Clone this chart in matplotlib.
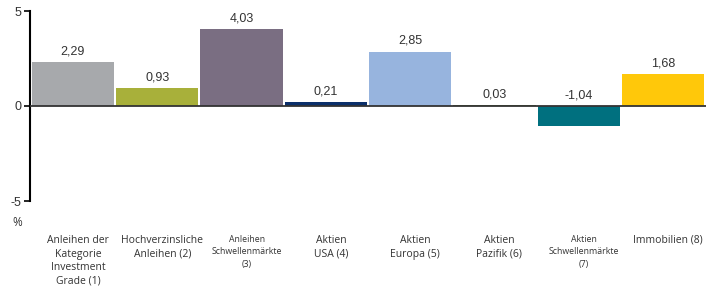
import matplotlib.pyplot as plt
import matplotlib.transforms as mtransforms

categories = [
    "Anleihen der\nKategorie\nInvestment\nGrade (1)",
    "Hochverzinsliche\nAnleihen (2)",
    "Anleihen\nSchwellenmärkte\n(3)",
    "Aktien\nUSA (4)",
    "Aktien\nEuropa (5)",
    "Aktien\nPazifik (6)",
    "Aktien\nSchwellenmärkte\n(7)",
    "Immobilien (8)",
]
values = [2.29, 0.93, 4.03, 0.21, 2.85, 0.03, -1.04, 1.68]
value_labels = ["2,29", "0,93", "4,03", "0,21", "2,85", "0,03", "-1,04", "1,68"]
colors = ["#A7A9AC", "#A8B03A", "#7A6E82", "#0B2F6A",
          "#97B4DE", "#6E8B3D", "#00707F", "#FFC80A"]
small_label = [False, False, True, False, False, False, True, False]

fig = plt.figure(figsize=(7.15, 2.87), dpi=100)
ax = fig.add_axes([30 / 715, 86 / 287, 676 / 715, 190 / 287])

x = list(range(len(values)))
ax.bar(x, values, width=0.975, color=colors, zorder=2)
ax.axhline(0, color="#333333", lw=1.3, zorder=3)

for xi, v, lab in zip(x, values, value_labels):
    ax.annotate(lab, (xi, max(v, 0)), xytext=(0, 3.5), textcoords="offset points",
                ha="center", va="bottom", fontsize=9, color="#333333",
                family="Liberation Sans")

ax.set_xlim(-0.51, len(values) - 0.49)
ax.set_ylim(-5, 5)
ax.set_yticks([-5, 0, 5])
ax.set_yticklabels(["-5", "0", "5"], family="Liberation Sans", fontsize=9,
                   color="#333333")
ax.tick_params(axis="y", length=4, width=1.2, pad=2)
ax.set_xticks([])
for s in ["top", "right", "bottom"]:
    ax.spines[s].set_visible(False)
ax.spines["left"].set_linewidth(1.5)

fig.text(17 / 715, 1 - 222 / 287, "%", ha="center", va="center",
         fontsize=8.5, family="Open Sans", color="#333333")

# category labels sit a little right of the bar centres
shift = mtransforms.ScaledTranslation(5 / 100, 0, fig.dpi_scale_trans)
trans = mtransforms.blended_transform_factory(ax.transData, fig.transFigure) + shift
for xi, cat, small in zip(x, categories, small_label):
    ax.text(xi, 1 - 235 / 287, cat, transform=trans, ha="center", va="top",
            fontsize=6.3 if small else 7.5, family="Open Sans", color="#333333",
            linespacing=1.5 if small else 1.33)

fig.savefig("out.png", dpi=100)
